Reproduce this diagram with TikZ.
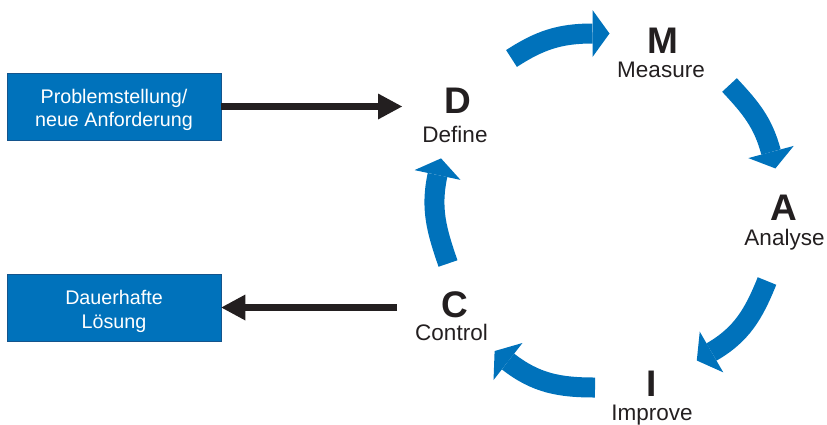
\documentclass[tikz,border=0pt]{standalone}
\usepackage{fontspec}
\setmainfont{Liberation Sans}
\usetikzlibrary{arrows.meta,calc}
\definecolor{sigblue}{RGB}{0,114,187}
\definecolor{sigedge}{RGB}{20,84,140}
\definecolor{sigblack}{RGB}{35,31,32}
\newcommand\cyclehead[4]{\fill[sigblue] ($(#1)+(#3:23.5)$) -- ($(#1)+(#2:17)$) -- ($(#1)+(#4:23.5)$) -- cycle;}
\begin{document}
\begin{tikzpicture}[x=1pt,y=1pt,
  box/.style={draw=sigedge, line width=0.8pt, fill=sigblue, minimum width=214pt, minimum height=67pt, inner sep=0pt},
  boxtext/.style={text=white, align=center, font=\fontsize{19.7}{23.5}\selectfont, inner sep=0pt},
  letter/.style={font=\bfseries\fontsize{37}{40}\selectfont, text=sigblack, anchor=base, inner sep=0pt},
  word/.style={font=\fontsize{22.5}{26}\selectfont, text=sigblack, anchor=base, inner sep=0pt},
  cyc/.style={draw=sigblue, line width=20pt},
  flow/.style={draw=sigblack, line width=7.5pt, -{Triangle[width=26pt,length=24pt,line width=0pt]}}]
\useasboundingbox (0,0) rectangle (827,-424);

% input / output boxes
\node[box] (p1) at (114,-106.5) {};
\node[boxtext] (p1t) at (114,-110) {Problemstellung/\\neue Anforderung};
\node[box] (p2) at (114,-307.5) {};
\node[boxtext] (p2t) at (114,-311.5) {Dauerhafte\\Lösung};

% DMAIC labels
\node[letter] (D) at (457.5,-113) {D};
\node[word] (Dw) at (455,-142) {Define};
\node[letter] (M) at (662.5,-53) {M};
\node[word] (Mw) at (661,-77) {Measure};
\node[letter] (A) at (784,-220) {A};
\node[word] (Aw) at (784.5,-245) {Analyse};
\node[letter] (I) at (651.5,-396.5) {I};
\node[word] (Iw) at (652,-420.5) {Improve};
\node[letter] (C) at (455,-317) {C};
\node[word] (Cw) at (451.5,-340) {Control};

% black flow arrows
\coordinate (dtip) at (402,-106.5);
\coordinate (ctail) at (397,-307.5);
\draw[flow] (p1.east) -- (dtip);
\draw[flow] (ctail) -- (p2.east);

% cycle arrows
\coordinate (t1) at (511.5,-58.5); \coordinate (b1) at (592.5,-33.5);
\draw[cyc] (t1) to[out=33,in=180] (b1);
\cyclehead{b1}{0}{90}{-90}

\coordinate (t2) at (729.5,-85); \coordinate (b2) at (771,-152);
\draw[cyc] (t2) to[out=-47,in=105] (b2);
\cyclehead{b2}{-75}{15}{-165}

\coordinate (t3) at (767,-281); \coordinate (b3) at (711.5,-352);
\draw[cyc] (t3) to[out=-112,in=30] (b3);
\cyclehead{b3}{-150}{-60}{120}

\coordinate (t4) at (595,-387.5); \coordinate (b4) at (508,-361.5);
\draw[cyc] (t4) to[out=180,in=-38] (b4);
\cyclehead{b4}{142}{52}{232}

\coordinate (t5) at (448,-263.5); \coordinate (b5) at (437.5,-175);
\draw[cyc] (t5) to[out=109,in=258] (b5);
\cyclehead{b5}{78}{168}{-12}
\end{tikzpicture}
\end{document}
